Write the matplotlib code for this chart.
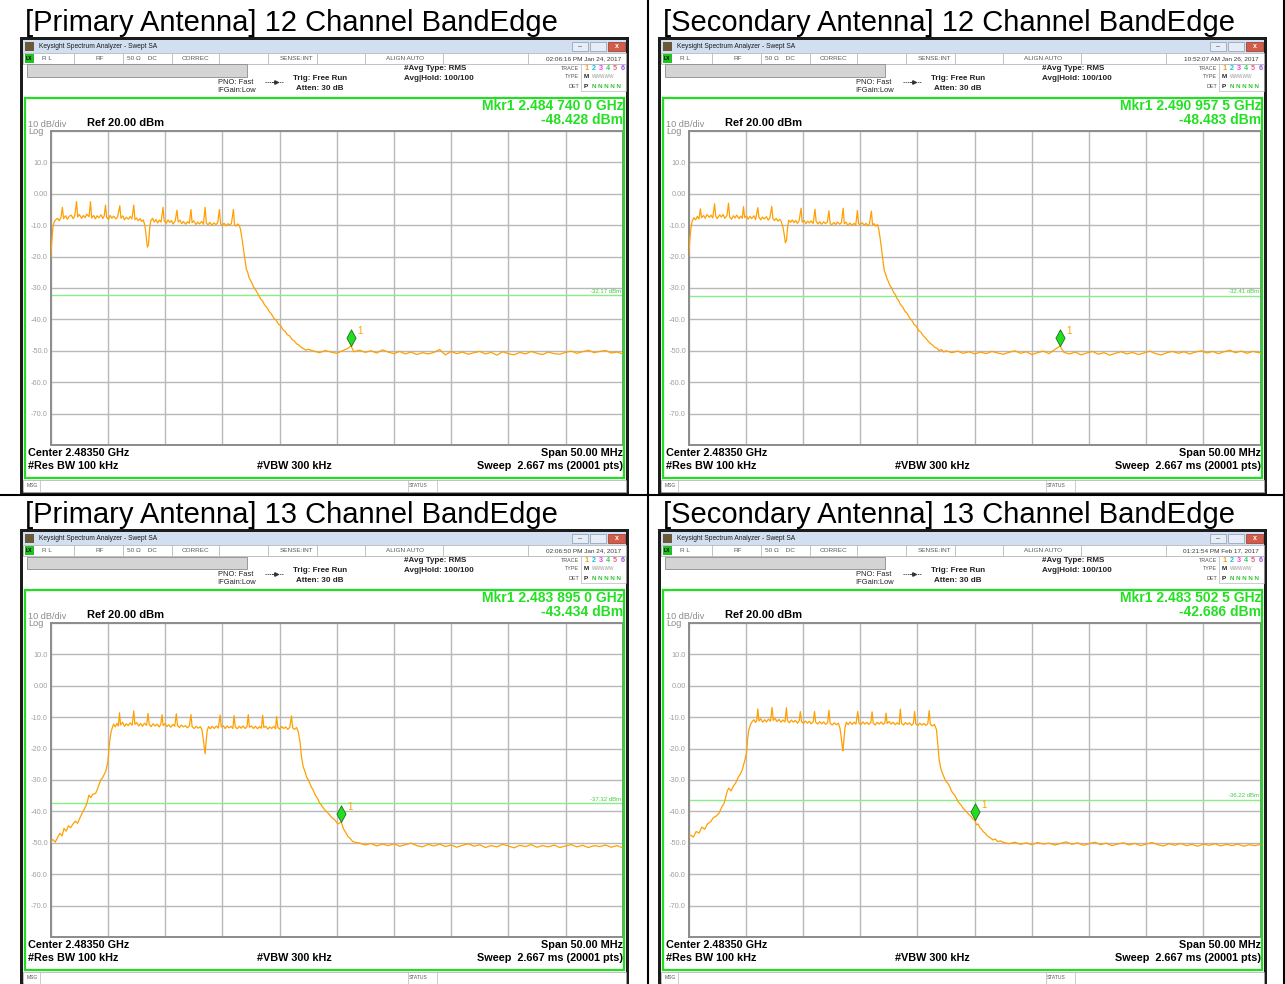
import numpy as np
import matplotlib.pyplot as plt
from matplotlib.patches import Rectangle
from matplotlib.lines import Line2D
from matplotlib.path import Path
import matplotlib.transforms as mtransforms

plt.rcParams['font.family'] = ['Liberation Sans', 'DejaVu Sans']

W, H = 1285, 984

# analyzer settings (same on all four screens)
f_start, f_stop = 2458.5, 2508.5      # MHz  (center 2483.5, span 50)
ref_level = 20.0
db_per_div = 10

titles = ["[Primary Antenna] 12 Channel BandEdge",
          "[Secondary Antenna] 12 Channel BandEdge",
          "[Primary Antenna] 13 Channel BandEdge",
          "[Secondary Antenna] 13 Channel BandEdge"]
timestamps = ["02:06:16 PM Jan 24, 2017", "10:52:07 AM Jan 26, 2017",
              "02:06:50 PM Jan 24, 2017", "01:21:54 PM Feb 17, 2017"]
mkr_freq_text = ["2.484 740 0", "2.490 957 5", "2.483 895 0", "2.483 502 5"]
mkr_freq_mhz = [2484.740, 2490.9575, 2483.895, 2483.5025]
mkr_level_dbm = [-48.428, -48.483, -43.434, -42.686]
display_line_dbm = [-32.17, -32.41, -37.32, -36.22]

# traces: (MHz, dBm)
pri12_trace = [
    (2458.50, -20.5), (2458.60, -15.0), (2458.70, -10.5), (2458.80, -9.0), (2458.95, -8.2),
    (2459.10, -7.8), (2459.25, -8.6), (2459.40, -7.5), (2459.52, -4.3), (2459.62, -7.9),
    (2459.80, -7.0), (2459.95, -8.1), (2460.10, -7.2), (2460.30, -6.8), (2460.45, -7.9),
    (2460.60, -7.1), (2460.76, -2.5), (2460.86, -7.4), (2461.00, -6.6), (2461.20, -7.8),
    (2461.35, -6.9), (2461.50, -7.6), (2461.65, -6.5), (2461.85, -7.3), (2461.98, -2.5),
    (2462.08, -7.7), (2462.25, -6.9), (2462.40, -8.0), (2462.55, -7.0), (2462.70, -7.6),
    (2462.90, -6.7), (2463.05, -7.9), (2463.18, -7.0), (2463.29, -3.6), (2463.39, -7.5),
    (2463.55, -8.2), (2463.70, -6.9), (2463.85, -7.8), (2464.00, -7.1), (2464.20, -8.0),
    (2464.35, -7.3), (2464.54, -3.8), (2464.64, -7.8), (2464.80, -7.0), (2464.95, -8.3),
    (2465.10, -7.5), (2465.30, -8.1), (2465.45, -7.2), (2465.60, -8.0), (2465.76, -3.6),
    (2465.86, -8.2), (2466.00, -7.7), (2466.15, -8.6), (2466.30, -7.9), (2466.45, -8.8),
    (2466.60, -8.3), (2466.75, -10.5), (2466.85, -13.5), (2466.95, -17.0), (2467.05, -16.2),
    (2467.15, -11.0), (2467.25, -8.6), (2467.40, -7.8), (2467.55, -9.0), (2467.70, -8.2),
    (2467.85, -9.3), (2468.00, -8.4), (2468.15, -9.0), (2468.32, -4.3), (2468.42, -8.6),
    (2468.60, -9.4), (2468.75, -8.3), (2468.90, -9.1), (2469.05, -8.5), (2469.20, -9.6),
    (2469.38, -8.7), (2469.54, -5.2), (2469.64, -9.0), (2469.80, -8.4), (2469.95, -9.5),
    (2470.10, -8.8), (2470.30, -9.7), (2470.45, -8.9), (2470.62, -9.4), (2470.76, -5.0),
    (2470.86, -9.2), (2471.00, -8.6), (2471.20, -9.8), (2471.35, -9.0), (2471.50, -9.6),
    (2471.70, -8.8), (2471.85, -9.7), (2472.00, -4.3), (2472.10, -9.3), (2472.25, -9.9),
    (2472.40, -9.1), (2472.60, -10.0), (2472.75, -9.3), (2472.95, -9.8), (2473.10, -9.2),
    (2473.25, -5.0), (2473.35, -9.6), (2473.50, -10.1), (2473.65, -9.4), (2473.85, -10.2),
    (2474.00, -9.5), (2474.15, -10.0), (2474.30, -9.4), (2474.47, -5.0), (2474.57, -9.8),
    (2474.70, -10.3), (2474.85, -9.6), (2475.00, -10.2),
    (2475.10, -11.5), (2475.25, -15.0), (2475.40, -19.0), (2475.50, -21.5), (2475.60, -24.0),
    (2475.72, -25.0), (2475.85, -26.8), (2475.95, -27.5), (2476.10, -28.5), (2476.25, -29.8),
    (2476.40, -30.5), (2476.55, -31.5), (2476.70, -32.4), (2476.85, -33.5), (2477.00, -34.0),
    (2477.20, -35.4), (2477.40, -36.2), (2477.60, -37.5), (2477.80, -38.3), (2478.00, -39.6),
    (2478.20, -40.2), (2478.40, -41.5), (2478.60, -42.0), (2478.80, -43.3), (2479.00, -43.8),
    (2479.20, -44.9), (2479.40, -45.3), (2479.60, -46.4), (2479.80, -46.9), (2480.00, -47.8),
    (2480.20, -48.2), (2480.40, -48.9), (2480.60, -49.3), (2480.80, -49.8), (2481.00, -49.5),
    (2481.5, -50.1), (2482.0, -50.6), (2482.5, -49.9), (2483.0, -50.4), (2483.5, -50.8),
    (2484.0, -50.0), (2484.5, -49.2), (2484.74, -48.4), (2485.0, -50.3), (2485.5, -49.8),
    (2486.0, -50.5), (2486.5, -50.0), (2487.0, -50.7), (2487.5, -49.7), (2488.0, -50.4),
    (2488.5, -50.9), (2489.0, -50.2), (2489.5, -51.0), (2490.0, -50.4), (2490.5, -51.2),
    (2491.0, -50.6), (2491.5, -51.0), (2492.0, -50.5), (2492.5, -49.6), (2493.0, -51.3),
    (2493.5, -50.2), (2494.0, -50.9), (2494.5, -50.4), (2495.0, -51.1), (2495.5, -50.6),
    (2496.0, -50.2), (2496.5, -51.0), (2497.0, -50.5), (2497.5, -51.4), (2498.0, -50.3),
    (2498.5, -50.9), (2499.0, -51.3), (2499.5, -50.5), (2500.0, -51.0), (2500.5, -50.2),
    (2501.0, -50.8), (2501.5, -51.2), (2502.0, -50.4), (2502.5, -50.9), (2503.0, -51.1),
    (2503.5, -50.5), (2504.0, -50.1), (2504.5, -50.8), (2505.0, -50.3), (2505.5, -49.8),
    (2506.0, -50.6), (2506.5, -50.2), (2507.0, -49.9), (2507.5, -50.7), (2508.0, -50.4),
    (2508.5, -51.0),
]

sec12_trace = [
    (2458.50, -20.0), (2458.60, -14.5), (2458.70, -10.8), (2458.80, -8.8), (2458.95, -7.6),
    (2459.10, -8.3), (2459.25, -7.2), (2459.40, -8.0), (2459.52, -4.8), (2459.62, -7.6),
    (2459.80, -6.9), (2459.95, -7.8), (2460.10, -6.6), (2460.30, -7.5), (2460.45, -6.8),
    (2460.60, -7.7), (2460.76, -3.2), (2460.86, -7.1), (2461.00, -7.9), (2461.20, -6.7),
    (2461.35, -7.4), (2461.50, -6.6), (2461.65, -7.8), (2461.85, -6.9), (2461.98, -3.0),
    (2462.08, -7.4), (2462.25, -8.1), (2462.40, -7.0), (2462.55, -7.7), (2462.70, -6.8),
    (2462.90, -7.9), (2463.05, -7.1), (2463.18, -7.8), (2463.29, -4.1), (2463.39, -7.6),
    (2463.55, -7.0), (2463.70, -8.1), (2463.85, -7.2), (2464.00, -7.9), (2464.20, -7.0),
    (2464.35, -8.2), (2464.54, -4.4), (2464.64, -7.5), (2464.80, -8.3), (2464.95, -7.4),
    (2465.10, -8.0), (2465.30, -7.3), (2465.45, -8.4), (2465.60, -7.6), (2465.76, -4.0),
    (2465.86, -7.9), (2466.00, -8.5), (2466.15, -7.8), (2466.30, -8.7), (2466.45, -8.1),
    (2466.60, -8.9), (2466.75, -10.8), (2466.85, -13.0), (2466.95, -15.6), (2467.05, -14.8),
    (2467.15, -10.6), (2467.25, -8.4), (2467.40, -9.1), (2467.55, -8.3), (2467.70, -9.2),
    (2467.85, -8.5), (2468.00, -9.4), (2468.15, -8.6), (2468.32, -4.6), (2468.42, -9.0),
    (2468.60, -8.5), (2468.75, -9.5), (2468.90, -8.7), (2469.05, -9.3), (2469.20, -8.6),
    (2469.38, -9.5), (2469.54, -4.9), (2469.64, -8.8), (2469.80, -9.6), (2469.95, -8.9),
    (2470.10, -9.7), (2470.30, -8.9), (2470.45, -9.5), (2470.62, -9.0), (2470.76, -5.4),
    (2470.86, -9.4), (2471.00, -9.9), (2471.20, -9.1), (2471.35, -9.8), (2471.50, -9.0),
    (2471.70, -9.7), (2471.85, -9.2), (2472.00, -4.6), (2472.10, -9.5), (2472.25, -9.0),
    (2472.40, -10.0), (2472.60, -9.3), (2472.75, -10.1), (2472.95, -9.4), (2473.10, -10.0),
    (2473.25, -5.3), (2473.35, -9.5), (2473.50, -9.9), (2473.65, -9.2), (2473.85, -10.0),
    (2474.00, -9.4), (2474.15, -10.2), (2474.30, -9.6), (2474.47, -5.5), (2474.57, -9.9),
    (2474.70, -9.5), (2474.85, -10.3), (2475.00, -9.8),
    (2475.10, -11.0), (2475.25, -14.6), (2475.40, -18.8), (2475.50, -22.0), (2475.60, -24.5),
    (2475.72, -25.6), (2475.85, -27.2), (2475.95, -27.9), (2476.10, -29.3), (2476.25, -30.0),
    (2476.40, -31.4), (2476.55, -32.0), (2476.70, -33.3), (2476.85, -34.0), (2477.00, -35.2),
    (2477.20, -36.0), (2477.40, -37.4), (2477.60, -38.1), (2477.80, -39.5), (2478.00, -40.3),
    (2478.20, -41.6), (2478.40, -42.2), (2478.60, -43.5), (2478.80, -44.1), (2479.00, -45.2),
    (2479.20, -45.9), (2479.40, -46.8), (2479.60, -47.6), (2479.80, -48.1), (2480.00, -48.9),
    (2480.20, -49.2), (2480.40, -49.9), (2480.60, -49.6), (2480.80, -50.4), (2481.00, -50.0),
    (2481.5, -50.6), (2482.0, -50.1), (2482.5, -50.8), (2483.0, -50.3), (2483.5, -51.0),
    (2484.0, -50.4), (2484.5, -50.9), (2485.0, -50.2), (2485.5, -50.7), (2486.0, -51.1),
    (2486.5, -50.5), (2487.0, -50.0), (2487.5, -50.8), (2488.0, -50.3), (2488.5, -51.2),
    (2489.0, -50.6), (2489.5, -50.1), (2490.0, -50.9), (2490.5, -49.6), (2490.96, -48.5),
    (2491.3, -50.5), (2491.8, -51.0), (2492.3, -50.4), (2492.8, -51.3), (2493.3, -50.7),
    (2493.8, -50.2), (2494.3, -51.1), (2494.8, -50.6), (2495.3, -51.4), (2495.8, -50.8),
    (2496.3, -50.3), (2496.8, -51.0), (2497.3, -50.5), (2497.8, -51.2), (2498.3, -50.7),
    (2498.8, -50.1), (2499.3, -50.9), (2499.8, -51.3), (2500.3, -50.6), (2500.8, -50.2),
    (2501.3, -50.8), (2501.8, -50.3), (2502.3, -51.0), (2502.8, -50.4), (2503.3, -50.0),
    (2503.8, -50.7), (2504.3, -50.2), (2504.8, -50.9), (2505.3, -50.3), (2505.8, -49.8),
    (2506.3, -50.6), (2506.8, -50.1), (2507.3, -50.8), (2507.8, -50.2), (2508.5, -50.7),
]

pri13_trace = [
    (2458.50, -49.6), (2458.70, -49.0), (2458.90, -49.8), (2459.10, -48.3), (2459.30, -47.0),
    (2459.50, -47.8), (2459.66, -45.4), (2459.85, -46.3), (2460.05, -44.6), (2460.24, -45.2),
    (2460.45, -44.0), (2460.65, -43.1), (2460.85, -43.8), (2461.10, -41.7), (2461.30, -40.2),
    (2461.55, -38.5), (2461.70, -37.0), (2461.84, -34.8), (2462.00, -35.6), (2462.20, -34.5),
    (2462.42, -34.3), (2462.60, -32.8), (2462.86, -30.0), (2463.05, -29.2), (2463.30, -27.3),
    (2463.42, -25.5), (2463.50, -24.2), (2463.58, -20.5), (2463.67, -17.3), (2463.77, -14.8),
    (2463.87, -13.5),
    (2464.00, -12.2), (2464.15, -13.1), (2464.30, -12.0), (2464.42, -12.8), (2464.51, -8.6),
    (2464.61, -12.5), (2464.78, -11.6), (2464.95, -12.9), (2465.10, -12.1), (2465.28, -12.7),
    (2465.45, -11.8), (2465.62, -12.6), (2465.76, -8.0), (2465.86, -12.3), (2466.02, -11.7),
    (2466.20, -12.8), (2466.36, -12.0), (2466.52, -12.9), (2466.70, -11.9), (2466.88, -12.6),
    (2467.01, -8.8), (2467.11, -12.4), (2467.28, -13.0), (2467.45, -12.1), (2467.62, -12.8),
    (2467.80, -12.2), (2467.98, -13.1), (2468.12, -12.3), (2468.23, -9.2), (2468.33, -12.7),
    (2468.50, -12.0), (2468.66, -13.0), (2468.82, -12.4), (2469.00, -13.2), (2469.18, -12.3),
    (2469.34, -12.9), (2469.48, -8.9), (2469.58, -12.6), (2469.75, -13.3), (2469.92, -12.5),
    (2470.10, -13.1), (2470.28, -12.7), (2470.45, -13.4), (2470.62, -12.8), (2470.76, -9.2),
    (2470.86, -13.0), (2471.05, -13.6), (2471.22, -12.9), (2471.40, -13.5), (2471.58, -13.0),
    (2471.72, -14.0), (2471.82, -16.5), (2471.92, -19.5), (2472.00, -21.6), (2472.08, -18.0),
    (2472.18, -14.2), (2472.30, -13.0), (2472.45, -13.7), (2472.62, -12.9), (2472.80, -13.6),
    (2472.98, -12.8), (2473.15, -13.5), (2473.31, -9.3), (2473.41, -13.1), (2473.58, -12.7),
    (2473.75, -13.6), (2473.92, -12.8), (2474.10, -13.4), (2474.28, -12.9), (2474.42, -13.6),
    (2474.53, -9.5), (2474.63, -13.0), (2474.80, -13.7), (2474.98, -12.9), (2475.15, -13.5),
    (2475.32, -12.8), (2475.50, -13.6), (2475.66, -13.0), (2475.77, -9.2), (2475.87, -13.2),
    (2476.05, -12.8), (2476.22, -13.6), (2476.40, -12.9), (2476.58, -13.7), (2476.75, -13.0),
    (2476.92, -13.5), (2477.03, -9.4), (2477.13, -13.3), (2477.30, -12.9), (2477.48, -13.8),
    (2477.65, -13.1), (2477.82, -13.6), (2478.00, -12.9), (2478.15, -13.7), (2478.25, -9.8),
    (2478.35, -13.2), (2478.52, -13.8), (2478.70, -13.0), (2478.88, -13.6), (2479.05, -13.1),
    (2479.22, -13.9), (2479.40, -13.2), (2479.55, -9.6), (2479.65, -13.4), (2479.82, -13.9),
    (2480.00, -13.3),
    (2480.13, -14.5), (2480.30, -18.0), (2480.42, -22.6), (2480.57, -25.8), (2480.70, -27.0),
    (2480.86, -29.0), (2481.05, -30.2), (2481.25, -32.0), (2481.44, -33.2), (2481.65, -34.9),
    (2481.85, -36.0), (2482.02, -37.4), (2482.20, -38.2), (2482.40, -39.3), (2482.60, -40.0),
    (2482.80, -40.8), (2483.05, -41.9), (2483.33, -42.7), (2483.60, -44.0), (2483.90, -43.4),
    (2484.10, -45.6), (2484.30, -46.8), (2484.48, -48.0), (2484.70, -48.7), (2484.90, -49.6),
    (2485.20, -49.9), (2485.50, -50.1),
    (2486.0, -50.7), (2486.5, -50.2), (2487.0, -51.0), (2487.5, -50.4), (2488.0, -50.9),
    (2488.5, -50.3), (2489.0, -51.1), (2489.5, -50.6), (2490.0, -50.1), (2490.5, -50.9),
    (2491.0, -51.3), (2491.5, -50.5), (2492.0, -51.0), (2492.5, -50.4), (2493.0, -51.2),
    (2493.5, -50.7), (2494.0, -51.4), (2494.5, -50.8), (2495.0, -50.3), (2495.5, -51.1),
    (2496.0, -50.6), (2496.5, -51.5), (2497.0, -50.9), (2497.5, -51.3), (2498.0, -50.5),
    (2498.5, -51.0), (2499.0, -51.6), (2499.5, -50.8), (2500.0, -51.2), (2500.5, -50.6),
    (2501.0, -51.4), (2501.5, -50.9), (2502.0, -51.3), (2502.5, -50.7), (2503.0, -51.5),
    (2503.5, -51.0), (2504.0, -50.6), (2504.5, -51.3), (2505.0, -50.8), (2505.5, -51.5),
    (2506.0, -50.9), (2506.5, -51.2), (2507.0, -50.7), (2507.5, -51.4), (2508.0, -50.9),
    (2508.5, -51.6),
]

sec13_trace = [
    (2458.50, -48.0), (2458.70, -47.6), (2458.90, -48.2), (2459.15, -46.4), (2459.40, -46.9),
    (2459.65, -45.0), (2459.90, -45.7), (2460.15, -43.9), (2460.42, -43.3), (2460.65, -42.0),
    (2460.90, -41.5), (2461.14, -40.6), (2461.40, -38.6), (2461.60, -37.4), (2461.75, -35.2),
    (2461.88, -33.4), (2462.01, -32.6), (2462.20, -33.5), (2462.40, -32.0), (2462.60, -31.0),
    (2462.85, -29.0), (2463.00, -28.2), (2463.18, -26.8), (2463.35, -24.5), (2463.55, -21.5),
    (2463.65, -17.0), (2463.75, -14.1), (2463.90, -12.3), (2464.05, -11.4),
    (2464.20, -10.8), (2464.35, -11.7), (2464.45, -10.9), (2464.54, -7.4), (2464.64, -11.2),
    (2464.80, -10.5), (2464.97, -11.6), (2465.14, -10.8), (2465.30, -11.5), (2465.47, -10.6),
    (2465.65, -11.3), (2465.79, -6.9), (2465.89, -11.0), (2466.05, -10.4), (2466.22, -11.4),
    (2466.40, -10.7), (2466.57, -11.6), (2466.74, -10.9), (2466.92, -11.5), (2467.04, -7.0),
    (2467.14, -11.1), (2467.30, -11.8), (2467.48, -10.9), (2467.65, -11.6), (2467.82, -11.0),
    (2468.00, -11.9), (2468.15, -11.2), (2468.26, -8.2), (2468.36, -11.4), (2468.53, -12.0),
    (2468.70, -11.2), (2468.88, -11.9), (2469.05, -11.3), (2469.22, -12.1), (2469.38, -11.5),
    (2469.50, -8.2), (2469.60, -11.6), (2469.78, -12.2), (2469.95, -11.4), (2470.12, -12.1),
    (2470.30, -11.5), (2470.48, -12.3), (2470.64, -11.7), (2470.76, -7.8), (2470.86, -11.9),
    (2471.04, -12.5), (2471.22, -11.8), (2471.40, -12.4), (2471.58, -11.9), (2471.72, -13.5),
    (2471.82, -16.0), (2471.92, -19.2), (2471.98, -20.7), (2472.06, -17.5), (2472.16, -13.4),
    (2472.28, -11.6), (2472.44, -12.4), (2472.60, -11.5), (2472.78, -12.3), (2472.95, -11.6),
    (2473.12, -12.2), (2473.28, -8.2), (2473.38, -11.8), (2473.55, -12.4), (2473.72, -11.5),
    (2473.90, -12.2), (2474.06, -11.6), (2474.24, -12.3), (2474.42, -11.7), (2474.53, -8.3),
    (2474.63, -11.9), (2474.80, -12.5), (2474.98, -11.6), (2475.15, -12.2), (2475.32, -11.5),
    (2475.50, -12.3), (2475.65, -11.8), (2475.75, -8.7), (2475.85, -12.0), (2476.02, -11.4),
    (2476.20, -12.2), (2476.38, -11.6), (2476.55, -12.4), (2476.72, -11.8), (2476.90, -12.3),
    (2477.00, -7.4), (2477.10, -11.9), (2477.28, -12.5), (2477.45, -11.7), (2477.62, -12.3),
    (2477.80, -11.8), (2477.98, -12.6), (2478.14, -12.0), (2478.25, -8.2), (2478.35, -12.1),
    (2478.52, -12.7), (2478.70, -11.9), (2478.88, -12.5), (2479.05, -12.0), (2479.22, -12.6),
    (2479.40, -12.1), (2479.52, -7.9), (2479.62, -12.2), (2479.80, -12.8), (2479.98, -12.3),
    (2480.16, -14.0), (2480.30, -19.5), (2480.39, -23.6), (2480.55, -26.5), (2480.74, -28.4),
    (2480.88, -29.6), (2481.00, -30.5), (2481.15, -31.0), (2481.32, -32.1), (2481.46, -33.5),
    (2481.60, -34.2), (2481.75, -34.8), (2481.90, -35.8), (2482.05, -36.9), (2482.20, -37.6),
    (2482.34, -38.1), (2482.48, -39.0), (2482.65, -39.6), (2482.80, -40.2), (2483.00, -41.0),
    (2483.20, -41.7), (2483.35, -42.5), (2483.50, -42.7), (2483.65, -44.3), (2483.80, -44.0),
    (2483.95, -45.2), (2484.10, -45.7), (2484.23, -46.4), (2484.40, -46.9), (2484.60, -47.8),
    (2484.85, -48.4), (2485.10, -49.1), (2485.30, -48.8), (2485.50, -49.6), (2485.75, -49.4),
    (2485.97, -49.8),
    (2486.5, -50.3), (2487.0, -49.8), (2487.5, -50.5), (2488.0, -50.0), (2488.5, -50.6),
    (2489.0, -49.9), (2489.5, -50.4), (2490.0, -50.1), (2490.5, -50.7), (2491.0, -50.2),
    (2491.5, -49.7), (2492.0, -50.5), (2492.5, -50.0), (2493.0, -50.8), (2493.5, -50.3),
    (2494.0, -49.8), (2494.5, -50.6), (2495.0, -50.1), (2495.5, -50.9), (2496.0, -50.4),
    (2496.5, -50.0), (2497.0, -50.7), (2497.5, -50.2), (2498.0, -50.9), (2498.5, -50.4),
    (2499.0, -49.9), (2499.5, -50.6), (2500.0, -51.0), (2500.5, -50.3), (2501.0, -50.8),
    (2501.5, -50.2), (2502.0, -50.9), (2502.5, -50.5), (2503.0, -51.1), (2503.5, -50.4),
    (2504.0, -50.8), (2504.5, -50.3), (2505.0, -51.0), (2505.5, -50.5), (2506.0, -50.9),
    (2506.5, -50.4), (2507.0, -51.1), (2507.5, -50.6), (2508.0, -50.9), (2508.5, -50.5),
]

traces = [pri12_trace, sec12_trace, pri13_trace, sec13_trace]

fig = plt.figure(figsize=(W / 100, H / 100), dpi=100)


def fx(x):
    return x / W


def fy(y):
    return 1 - y / H


def box(x0, y0, x1, y1, fc='none', ec='none', lw=0.6, z=-5):
    fig.add_artist(Rectangle((fx(x0), fy(y1)), (x1 - x0) / W, (y1 - y0) / H,
                             transform=fig.transFigure, facecolor=fc,
                             edgecolor=ec, lw=lw, zorder=z))


def seg(xs, ys, color='k', lw=1.0, z=-4, **kw):
    fig.add_artist(Line2D([fx(x) for x in xs], [fy(y) for y in ys],
                          transform=fig.transFigure, color=color, lw=lw,
                          zorder=z, **kw))


def txt(x, y, s, size=5.0, color='#222222', ha='left', weight='normal', z=3):
    fig.text(fx(x), fy(y), s, fontsize=size, color=color, ha=ha, va='center',
             fontweight=weight, zorder=z)


# marker shape: tall diamond with its bottom tip on the trace point
diamond = Path([(0, 0), (0.55, 1), (0, 2), (-0.55, 1), (0, 0)],
               [Path.MOVETO, Path.LINETO, Path.LINETO, Path.LINETO, Path.CLOSEPOLY])

ytick_vals = list(range(-80, 21, 10))
ytick_labels = ['' if v in (-80, 20) else ('0.00' if v == 0 else f'{v:.1f}') for v in ytick_vals]


def draw_screen(i, ox, oy):
    X = lambda x: x + ox
    Y = lambda y: y + oy

    txt(X(25), Y(23), titles[i], size=21, color='black')

    # window frame
    box(X(20), Y(37), X(629), Y(494), fc='#1c1c1c', z=-10)
    box(X(23), Y(40), X(626), Y(491), fc='white', z=-9)

    # title bar
    box(X(23), Y(40), X(626), Y(53), fc='#d2dff0', z=-8)
    box(X(25), Y(42), X(34), Y(51), fc='#6b5a3a', z=-7)
    txt(X(39), Y(46.5), 'Keysight Spectrum Analyzer - Swept SA', size=4.8, color='#1a1a1a')
    box(X(572), Y(42), X(588), Y(51), fc='#e6edf6', ec='#8a9ab0', lw=0.5, z=-7)
    box(X(590), Y(42), X(606), Y(51), fc='#e6edf6', ec='#8a9ab0', lw=0.5, z=-7)
    box(X(608), Y(42), X(625), Y(51), fc='#d65a48', ec='#8a3a30', lw=0.5, z=-7)
    txt(X(580), Y(46.5), '–', size=5, color='#444444', ha='center')
    txt(X(616.5), Y(46.5), 'x', size=5, color='white', ha='center', weight='bold')

    # status row
    box(X(23), Y(53), X(626), Y(63.5), fc='white', ec='#a8a8a8', lw=0.5, z=-8)
    box(X(25), Y(54), X(34), Y(62.5), fc='#22c022', z=-7)
    txt(X(26), Y(58.3), 'LX', size=3.6, color='black', weight='bold')
    for sx in [74, 123, 172, 219, 268, 317, 365, 443, 528]:
        seg([X(sx), X(sx)], [Y(53), Y(63.5)], color='#b8b8b8', lw=0.6, z=-7)
    for sx, s in [(42, 'R L'), (96, 'RF'), (127, '50 Ω    DC'), (182, 'CORREC'),
                  (280, 'SENSE:INT'), (386, 'ALIGN AUTO')]:
        txt(X(sx), Y(58.3), s, size=4.6, color='#5a5a5a')
    txt(X(621), Y(58.3), timestamps[i], size=4.6, color='#3a3a3a', ha='right')

    # gray entry bar and settings block
    box(X(27), Y(64.5), X(247), Y(76.5), fc='#d4d4d4', ec='#8c8c8c', lw=0.6, z=-7)
    txt(X(218), Y(82), 'PNO: Fast', size=5.4)
    txt(X(217), Y(91), 'IFGain:Low', size=5.4)
    seg([X(265), X(283)], [Y(82), Y(82)], color='#333333', lw=0.6, z=-6, ls=(0, (1.5, 1)))
    seg([X(272), X(276)], [Y(82), Y(82)], color='#333333', lw=0.6, z=-6,
        marker='>', ms=2.5, markevery=[1])
    txt(X(293), Y(78), 'Trig: Free Run', size=5.8, weight='bold')
    txt(X(296), Y(89), 'Atten: 30 dB', size=5.8, weight='bold')
    txt(X(404), Y(68), '#Avg Type: RMS', size=5.8, weight='bold')
    txt(X(404), Y(78), 'Avg|Hold: 100/100', size=5.8, weight='bold')
    txt(X(579), Y(68), 'TRACE', size=3.9, color='#555555', ha='right')
    txt(X(579), Y(77), 'TYPE', size=3.9, color='#555555', ha='right')
    txt(X(579), Y(86), 'DET', size=3.9, color='#555555', ha='right')
    box(X(581), Y(64), X(626), Y(91), ec='#b8b8b8', lw=0.5, z=-6)
    trace_cols = ['#f0a020', '#10c0f0', '#f040f0', '#30d060', '#f06080', '#a050f0']
    for k, c in enumerate(trace_cols):
        txt(X(584 + k * 7.3), Y(68), str(k + 1), size=5.2, color=c, weight='bold')
    txt(X(584), Y(77), 'M', size=4.6, color='#222222', weight='bold')
    txt(X(592), Y(77), 'WWWWW', size=3.4, color='#999999')
    txt(X(584), Y(86), 'P', size=4.6, color='#222222', weight='bold')
    txt(X(592), Y(86), 'N N N N N', size=4.4, color='#30c030', weight='bold')

    # green measurement box
    box(X(25), Y(98), X(624), Y(478), ec='#22dd22', lw=1.6, z=6)
    txt(X(623), Y(106), f'Mkr1 {mkr_freq_text[i]} GHz', size=10, color='#22e022',
        ha='right', weight='bold')
    txt(X(623), Y(120), f'{mkr_level_dbm[i]:.3f} dBm', size=10, color='#22e022',
        ha='right', weight='bold')
    txt(X(28), Y(124.5), '10 dB/div', size=6.6, color='#8c8c8c')
    txt(X(28), Y(132), 'Log', size=6.6, color='#8c8c8c')
    txt(X(87), Y(123.5), 'Ref 20.00 dBm', size=8, color='black', weight='bold')

    txt(X(28), Y(453), 'Center 2.48350 GHz', size=7.8, color='black', weight='bold')
    txt(X(623), Y(453), 'Span 50.00 MHz', size=7.8, color='black', weight='bold', ha='right')
    txt(X(28), Y(466), '#Res BW 100 kHz', size=7.8, color='black', weight='bold')
    txt(X(257), Y(466), '#VBW 300 kHz', size=7.8, color='black', weight='bold')
    txt(X(623), Y(466), 'Sweep  2.667 ms (20001 pts)', size=7.8, color='black',
        weight='bold', ha='right')

    # message / status bar
    box(X(23), Y(480), X(626), Y(491.5), fc='white', ec='#a8a8a8', lw=0.5, z=-7)
    for sx in [40, 408, 437]:
        seg([X(sx), X(sx)], [Y(480), Y(491.5)], color='#b8b8b8', lw=0.5, z=-6)
    txt(X(27), Y(485.5), 'MSG', size=3.6, color='#555555')
    txt(X(409), Y(485.5), 'STATUS', size=3.6, color='#555555')

    # trace display
    ax = fig.add_axes([fx(X(50.7)), fy(Y(445)), 572 / W, 314 / H])
    ax.set_facecolor('white')
    ax.set_xlim(f_start, f_stop)
    ax.set_ylim(ref_level - 10 * db_per_div, ref_level)
    ax.set_xticks(np.linspace(f_start, f_stop, 11))
    ax.set_yticks(ytick_vals)
    ax.set_yticklabels(ytick_labels)
    ax.tick_params(length=0, labelbottom=False, labelsize=5.3, labelcolor='#a0a0a0', pad=2)
    ax.grid(True, color='#b8b8b8', lw=1.0)
    for sp in ax.spines.values():
        sp.set_color('#8c8c8c')
        sp.set_linewidth(1.4)

    f, d = zip(*traces[i])
    ax.plot(f, d, color='#ffa000', lw=0.9, zorder=3)

    dl = display_line_dbm[i]
    ax.axhline(dl, color='#88ee88', lw=1.0, zorder=2)
    trans = mtransforms.blended_transform_factory(ax.transAxes, ax.transData)
    ax.text(0.997, dl + 0.4, f'{dl:.2f} dBm', transform=trans, ha='right', va='bottom',
            fontsize=4.3, color='#44cc44')

    ax.plot([mkr_freq_mhz[i]], [mkr_level_dbm[i]], marker=diamond, ms=24, ls='none',
            mfc='#22dd22', mec='#1f6f1f', mew=0.6, zorder=5)
    ax.annotate('1', (mkr_freq_mhz[i], mkr_level_dbm[i]), xytext=(4.5, 11),
                textcoords='offset points', color='#ffa000', fontsize=7, va='center')


offsets = [(0, 0), (638, 0), (0, 492), (638, 492)]
for i, (ox, oy) in enumerate(offsets):
    draw_screen(i, ox, oy)

# table rules
seg([648, 648], [0, 984], color='black', lw=1.5, z=8)
seg([1283.5, 1283.5], [0, 984], color='black', lw=1.5, z=8)
seg([0, 1285], [494.5, 494.5], color='black', lw=1.5, z=8)

fig.savefig('out.png', dpi=100)
